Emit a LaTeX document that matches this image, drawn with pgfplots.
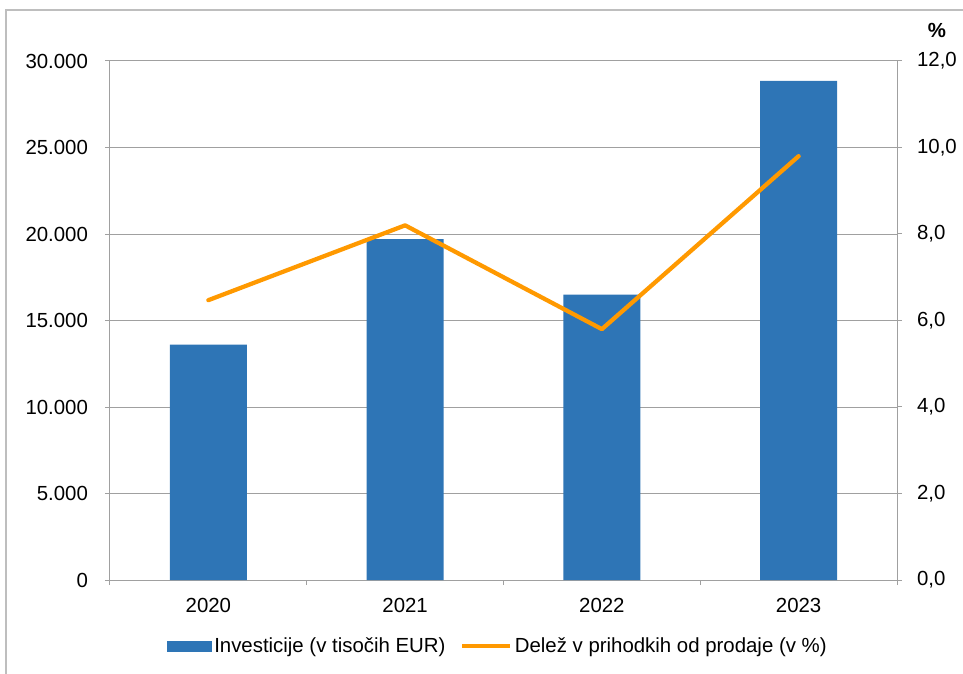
\documentclass[border=0pt]{standalone}
\usepackage{pgfplots}
\pgfplotsset{compat=1.18}
\usepackage{fontspec}
\setmainfont{Liberation Sans}
\definecolor{barblue}{RGB}{46,117,182}
\definecolor{lineorange}{RGB}{255,153,0}
\definecolor{gridgray}{RGB}{160,160,160}
\definecolor{framegray}{RGB}{190,190,190}
\newcommand\chartfont{\fontsize{15.3}{18}\selectfont}
\pgfplotsset{
  common/.style={
    at={(0pt,0pt)}, anchor=south west,
    scale only axis, width=590.25pt, height=389.25pt,
    xmin=-0.5, xmax=3.5,
    tick align=outside, major tick length=3.75pt, minor tick length=3.75pt,
    tick style={gridgray, line width=0.75pt},
    axis line style={gridgray, line width=0.75pt},
    /pgf/number format/assume math mode=true,
    tick label style={font=\chartfont},
  }
}
\begin{document}
\chartfont
\begin{tikzpicture}
\useasboundingbox (-82.5pt,-70.5pt) rectangle (639.75pt,435pt);
\draw[framegray, line width=1.2pt] (-78pt,-80pt) -- (-78pt,427.5pt) -- (650pt,427.5pt);
\begin{axis}[common,
  ymin=0, ymax=30000,
  axis y line*=left, axis x line*=bottom,
  xtick={0,1,2,3}, xticklabels={2020,2021,2022,2023},
  major x tick style={draw=none},
  minor xtick={-0.5,0.5,1.5,2.5,3.5},
  ytick={0,5000,...,30000},
  scaled y ticks=false,
  /pgf/number format/1000 sep={.},
  yticklabel style={xshift=-7.5pt},
  xticklabel style={yshift=-5pt},
  ymajorgrids, grid style={gridgray, line width=0.75pt},
  legend style={at={(0.493,-0.128)}, anchor=center, draw=none, fill=none,
    legend columns=2, font=\chartfont,
    /tikz/every even column/.append style={column sep=9pt},
    inner sep=0pt},
  legend cell align=left,
]
\addplot[ybar, bar width=57.75pt, fill=barblue, draw=none,
  legend image code/.code={\fill[barblue] (0pt,-4.1pt) rectangle (33.75pt,4.1pt);}]
  coordinates {(0,13600) (1,19700) (2,16500) (3,28850)};
\addlegendentry{Investicije (v tisočih EUR)}
\addlegendimage{lineorange, line width=3pt,
  legend image code/.code={\draw[lineorange, line width=3pt] (0pt,0pt) -- (36pt,0pt);}}
\addlegendentry{Delež v prihodkih od prodaje (v \%)}
\end{axis}
\begin{axis}[common,
  ymin=0, ymax=12,
  axis y line*=right, axis x line=none,
  ytick={0,2,...,12},
  /pgf/number format/fixed, /pgf/number format/fixed zerofill,
  /pgf/number format/precision=1, /pgf/number format/use comma,
  yticklabel style={xshift=6pt},
]
\addplot[lineorange, line width=3.2pt, line cap=round, line join=round]
  coordinates {(0,6.47) (1,8.2) (2,5.8) (3,9.8)};
\end{axis}
\node[font=\chartfont\bfseries] at (620.25pt,412.5pt) {\%};
\end{tikzpicture}
\end{document}
